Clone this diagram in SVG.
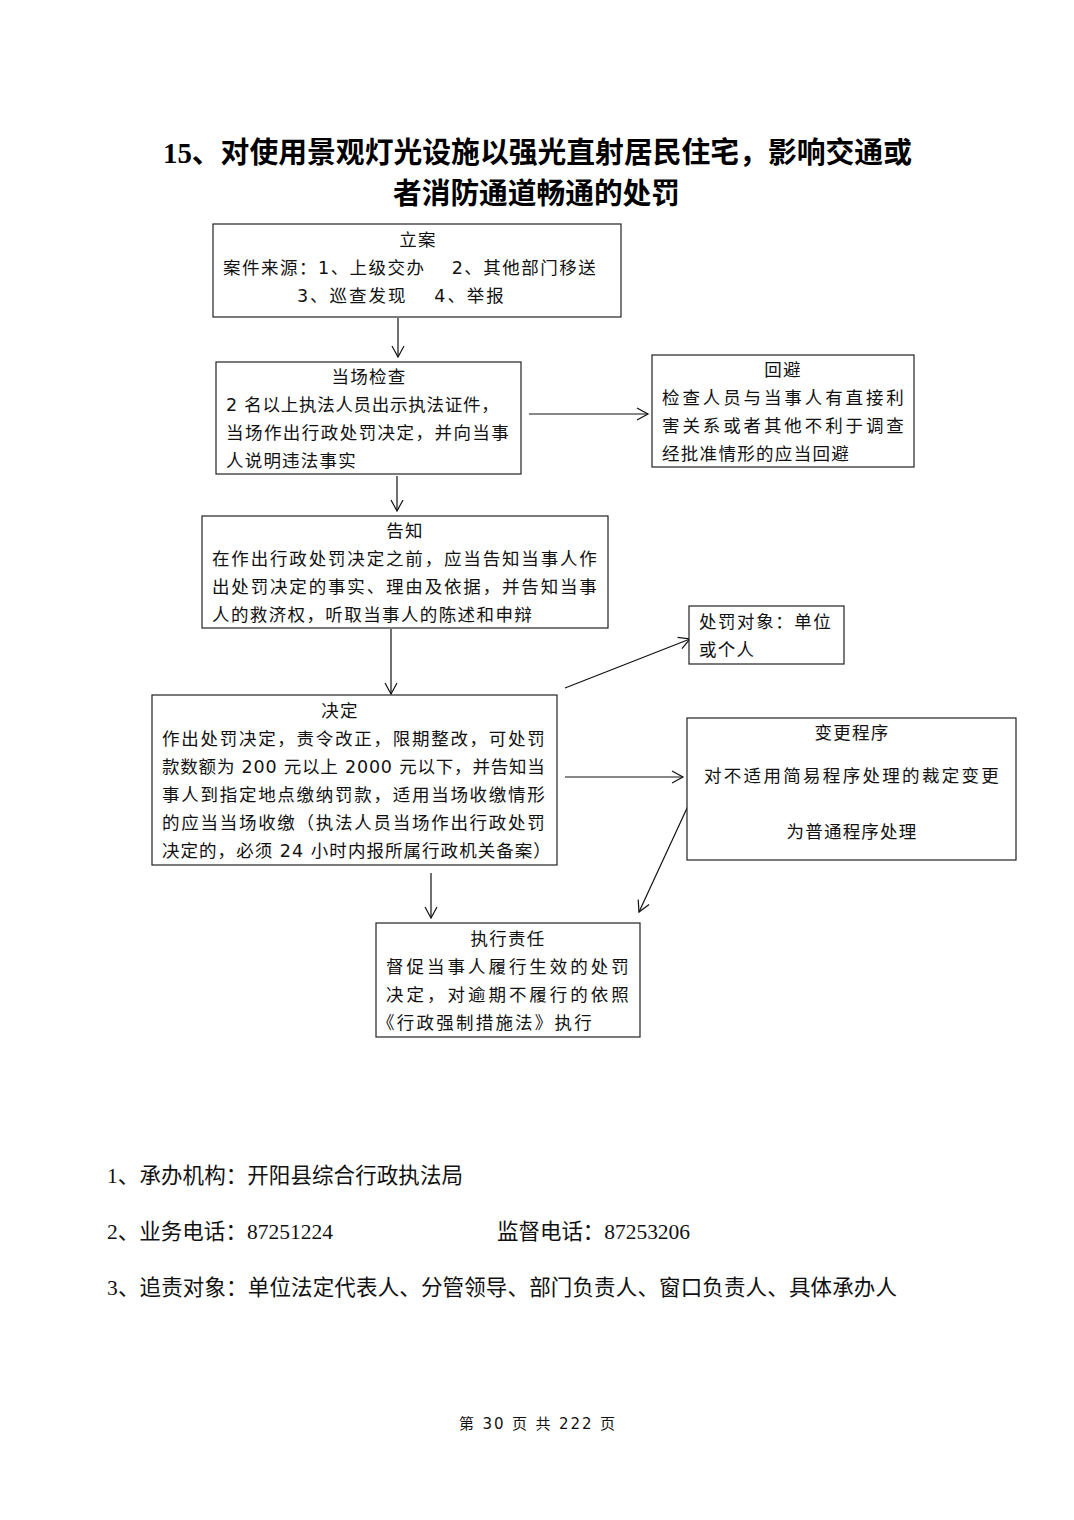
<svg xmlns="http://www.w3.org/2000/svg" width="1074" height="1520" viewBox="0 0 1074 1520">
<style>
.box{fill:#fff;stroke:#222;stroke-width:1.2}
.t{font-family:"DejaVu Sans","Noto Sans CJK SC",sans-serif;font-size:17.5px;fill:#111;letter-spacing:1.2px}
.c{text-anchor:middle}
.title{font-family:"Liberation Serif","Noto Sans CJK SC",serif;font-weight:bold;font-size:29px;fill:#000;text-anchor:middle}
.foot{font-family:"Liberation Serif","Noto Sans CJK SC",serif;font-size:21.5px;fill:#111}
.pg{font-family:"DejaVu Sans","Noto Sans CJK SC",sans-serif;font-size:15px;fill:#111}
.conn{stroke:#111;stroke-width:1.2;fill:none}
</style>
<defs>
<marker id="arr" markerUnits="userSpaceOnUse" markerWidth="14" markerHeight="14" refX="12" refY="7" orient="auto">
<path d="M1,1 L12,7 L1,13" fill="none" stroke="#111" stroke-width="1.2"/>
</marker>
</defs>
<rect width="1074" height="1520" fill="#fff"/>
<g id="title">
<text class="title" x="537.5" y="163" textLength="749" lengthAdjust="spacingAndGlyphs">15、对使用景观灯光设施以强光直射居民住宅，影响交通或</text>
<text class="title" x="536.5" y="204" textLength="287" lengthAdjust="spacingAndGlyphs">者消防通道畅通的处罚</text>
</g>
<g id="connectors">
<line class="conn" x1="398" y1="318" x2="398" y2="357" marker-end="url(#arr)"/>
<line class="conn" x1="529" y1="414" x2="648" y2="414" marker-end="url(#arr)"/>
<line class="conn" x1="397" y1="476" x2="397" y2="511" marker-end="url(#arr)"/>
<line class="conn" x1="391" y1="629" x2="391" y2="694" marker-end="url(#arr)"/>
<line class="conn" x1="565" y1="688" x2="690" y2="639" marker-end="url(#arr)"/>
<line class="conn" x1="565" y1="777" x2="683" y2="777" marker-end="url(#arr)"/>
<line class="conn" x1="688" y1="806" x2="639" y2="912" marker-end="url(#arr)"/>
<line class="conn" x1="431" y1="873" x2="431" y2="918" marker-end="url(#arr)"/>
</g>
<g id="node-lian">
<rect class="box" x="213" y="224" width="408" height="93"/>
<text class="t c" x="418" y="246">立案</text>
<text class="t" x="223" y="274" textLength="374" lengthAdjust="spacing">案件来源：1、上级交办　 2、其他部门移送</text>
<text class="t" x="297" y="302" textLength="208" lengthAdjust="spacing">3、巡查发现　 4、举报</text>
</g>
<g id="node-jiancha">
<rect class="box" x="216" y="362" width="305" height="112"/>
<text class="t c" x="369" y="383">当场检查</text>
<text class="t" x="226" y="411" textLength="274" lengthAdjust="spacing">2 名以上执法人员出示执法证件，</text>
<text class="t" x="226" y="439" textLength="284" lengthAdjust="spacing">当场作出行政处罚决定，并向当事</text>
<text class="t" x="226" y="467">人说明违法事实</text>
</g>
<g id="node-huibi">
<rect class="box" x="652" y="355" width="262" height="112"/>
<text class="t c" x="783" y="376">回避</text>
<text class="t" x="662" y="404" textLength="243" lengthAdjust="spacing">检查人员与当事人有直接利</text>
<text class="t" x="662" y="432" textLength="243" lengthAdjust="spacing">害关系或者其他不利于调查</text>
<text class="t" x="662" y="460" textLength="188" lengthAdjust="spacing">经批准情形的应当回避</text>
</g>
<g id="node-gaozhi">
<rect class="box" x="202" y="516" width="406" height="112"/>
<text class="t c" x="405" y="537">告知</text>
<text class="t" x="212" y="565" textLength="386" lengthAdjust="spacing">在作出行政处罚决定之前，应当告知当事人作</text>
<text class="t" x="212" y="593" textLength="386" lengthAdjust="spacing">出处罚决定的事实、理由及依据，并告知当事</text>
<text class="t" x="212" y="621" textLength="321" lengthAdjust="spacing">人的救济权，听取当事人的陈述和申辩</text>
</g>
<g id="node-duixiang">
<rect class="box" x="689" y="606" width="155" height="58"/>
<text class="t" x="699" y="628" textLength="133" lengthAdjust="spacing">处罚对象：单位</text>
<text class="t" x="699" y="656">或个人</text>
</g>
<g id="node-jueding">
<rect class="box" x="152" y="695" width="405" height="170"/>
<text class="t c" x="340" y="717">决定</text>
<text class="t" x="162" y="745" textLength="384" lengthAdjust="spacing">作出处罚决定，责令改正，限期整改，可处罚</text>
<text class="t" x="162" y="773" textLength="384" lengthAdjust="spacing">款数额为 200 元以上 2000 元以下，并告知当</text>
<text class="t" x="162" y="801" textLength="384" lengthAdjust="spacing">事人到指定地点缴纳罚款，适用当场收缴情形</text>
<text class="t" x="162" y="829" textLength="384" lengthAdjust="spacing">的应当当场收缴（执法人员当场作出行政处罚</text>
<text class="t" x="162" y="857" textLength="390" lengthAdjust="spacing">决定的，必须 24 小时内报所属行政机关备案）</text>
</g>
<g id="node-biangeng">
<rect class="box" x="687" y="718" width="329" height="142"/>
<text class="t c" x="852" y="739">变更程序</text>
<text class="t c" x="852" y="782" textLength="296" lengthAdjust="spacing">对不适用简易程序处理的裁定变更</text>
<text class="t c" x="852" y="838">为普通程序处理</text>
</g>
<g id="node-zhixing">
<rect class="box" x="376" y="923" width="264" height="114"/>
<text class="t c" x="508" y="945">执行责任</text>
<text class="t" x="386" y="973" textLength="244" lengthAdjust="spacing">督促当事人履行生效的处罚</text>
<text class="t" x="386" y="1001" textLength="244" lengthAdjust="spacing">决定，对逾期不履行的依照</text>
<text class="t" x="377" y="1029" textLength="216" lengthAdjust="spacing">《行政强制措施法》执行</text>
</g>
<g id="footer">
<text class="foot" x="107" y="1183" textLength="356" lengthAdjust="spacing">1、承办机构：开阳县综合行政执法局</text>
<text class="foot" x="107" y="1239" textLength="226" lengthAdjust="spacing">2、业务电话：87251224</text>
<text class="foot" x="497" y="1239" textLength="193" lengthAdjust="spacing">监督电话：87253206</text>
<text class="foot" x="107" y="1295" textLength="790" lengthAdjust="spacing">3、追责对象：单位法定代表人、分管领导、部门负责人、窗口负责人、具体承办人</text>
<text class="pg" x="459" y="1429" textLength="156" lengthAdjust="spacing">第 30 页 共 222 页</text>
</g>
</svg>
